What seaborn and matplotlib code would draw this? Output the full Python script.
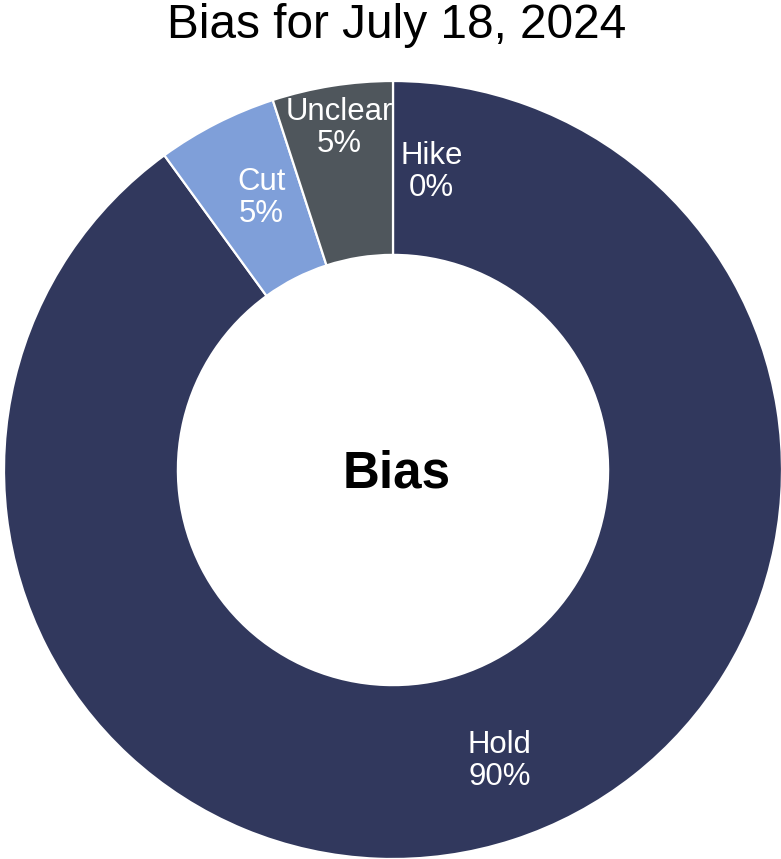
import matplotlib
matplotlib.use("Agg")
import matplotlib.pyplot as plt
import seaborn as sns
import numpy as np

categories = ["Hike", "Hold", "Cut", "Unclear"]
values = [0, 90, 5, 5]
title = "Bias for July 18, 2024"
center_label = "Bias"

colors = sns.color_palette(["#31385D", "#31385D", "#7F9FD9", "#4F565C"])

# label placement tweaks (data units of the unit pie): radius and xy nudge
label_radius = {"Hike": 0.766, "Hold": 0.787, "Cut": 0.784, "Unclear": 0.89}
label_nudge = {"Hike": (0.0, 0.0), "Hold": (0.03, 0.0), "Cut": (0.017, 0.0), "Unclear": (0.0, 0.0)}

sns.set_theme(style="white")
plt.rcParams["font.family"] = ["Liberation Sans", "DejaVu Sans"]

W, H = 781, 859
fig = plt.figure(figsize=(W / 100, H / 100), dpi=100)
R = 389
cx, cy = 393, 470
ax = fig.add_axes([(cx - R) / W, (H - cy - R) / H, 2 * R / W, 2 * R / H])

inner = 0.553
wedges, _ = ax.pie(values, colors=colors, startangle=90, counterclock=False,
                   radius=1, wedgeprops=dict(width=1 - inner, edgecolor="white", linewidth=1.6))
ax.set_xlim(-1, 1)
ax.set_ylim(-1, 1)
ax.set_aspect("equal")
ax.axis("off")

total = sum(values)
cum = 0
for cat, v in zip(categories, values):
    frac_mid = (cum + v / 2) / total
    cum += v
    theta = np.deg2rad(90 - 360 * frac_mid)
    txt = f"{cat}\n{v:.0f}%"
    r = label_radius[cat]
    dx, dy = label_nudge[cat]
    x, y = r * np.cos(theta) + dx, r * np.sin(theta) + dy
    if v == 0:
        ax.text(x + 0.018, y, txt, ha="left", va="center", multialignment="center",
                color="white", fontsize=22.4, linespacing=1.1)
    else:
        ax.text(x, y, txt, ha="center", va="center", color="white",
                fontsize=22.4, linespacing=1.1)

ax.text(0.01, -0.01, center_label, ha="center", va="center", fontsize=36.8,
        fontweight="bold", color="black")

fig.text(397 / W, 1 - 26 / H, title, ha="center", va="center", fontsize=34.4, color="black")

fig.savefig("out.png", dpi=100, facecolor="white")
